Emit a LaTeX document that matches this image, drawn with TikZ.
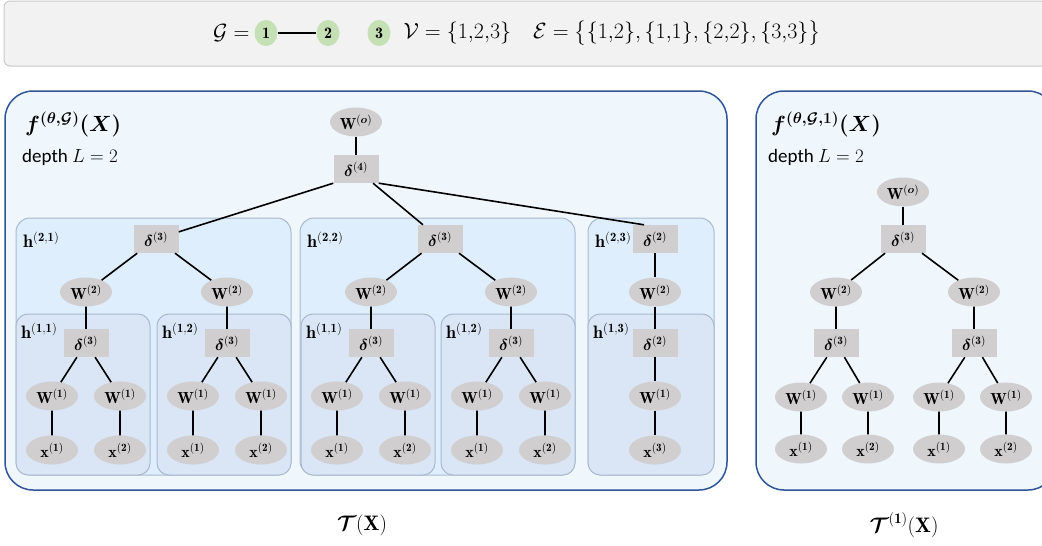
\RequirePackage{fix-cm}
\documentclass[tikz,border=0pt]{standalone}
\usepackage{amsmath,bm}
\usepackage{fontspec}
\newfontfamily\calibri{Carlito}
\usetikzlibrary{shapes.geometric,positioning}

\definecolor{nodegray}{HTML}{D0CECE}
\definecolor{gnode}{HTML}{C5E0B4}
\definecolor{frameblue}{HTML}{2F5597}
\definecolor{panelfill}{HTML}{F0F7FC}
\definecolor{hfilltwo}{HTML}{DEEEFC}
\definecolor{hfillone}{HTML}{DAE5F5}
\definecolor{hborder}{HTML}{A9B9D0}
\definecolor{topfill}{HTML}{F2F2F2}
\definecolor{topline}{HTML}{C9C9C9}

% math label at a given size
\newcommand{\lab}[2]{{\fontsize{#1}{#1}\selectfont$#2$}}

\tikzset{
  wnode/.style={ellipse, fill=nodegray, minimum width=52pt, minimum height=29pt, inner sep=0pt},
  dnode/.style={rectangle, fill=nodegray, minimum width=45pt, minimum height=28pt, inner sep=0pt},
  gnodestyle/.style={ellipse, fill=gnode, minimum width=23pt, minimum height=26pt, inner sep=0pt},
  panel/.style={draw=frameblue, line width=1.5pt, fill=panelfill, rounded corners=28pt},
  hboxtwo/.style={draw=hborder, line width=1pt, fill=hfilltwo, rounded corners=14pt},
  hboxone/.style={draw=hborder, line width=1pt, fill=hfillone, rounded corners=12pt},
  hlabel/.style={anchor=west, inner sep=0pt},
  link/.style={line width=1.6pt},
}

\begin{document}
\begin{tikzpicture}[x=1pt, y=-1pt]
\useasboundingbox (0,0) rectangle (1042,546);

% graph on top
\draw[fill=topfill, draw=topline, line width=1pt, rounded corners=6pt] (4,1) rectangle (1056,66);
\node[gnodestyle] (g1) at (266,33) {\lab{16}{\mathbf{1}}};
\node[gnodestyle] (g2) at (328,33) {\lab{16}{\mathbf{2}}};
\node[gnodestyle] (g3) at (379,33) {\lab{16}{\mathbf{3}}};
\draw[link] (g1) -- (g2);
\node[anchor=east] (gname) at (253,33) {\lab{22}{\mathcal{G} =}};
\node[anchor=west] (sets) at (400,33)
  {\lab{22}{\mathcal{V} = \{1{,}2{,}3\}\quad \mathcal{E} = \big\{\{1{,}2\},\{1{,}1\},\{2{,}2\},\{3{,}3\}\big\}}};

% panels
\draw[panel] (5,91) rectangle (727,490);
\draw[panel] (756,91) rectangle (1056,490);

\node[anchor=west, inner sep=0pt] (fname) at (25,124) {\lab{22}{\bm{f^{(\theta,\mathcal{G})}(X)}}};
\node[anchor=west, inner sep=0pt, font=\calibri\fontsize{19}{21}\selectfont] (depth) at (22,157) {depth $L=2$};
\node[anchor=west, inner sep=0pt] (fname2) at (771,124) {\lab{22}{\bm{f^{(\theta,\mathcal{G},1)}(X)}}};
\node[anchor=west, inner sep=0pt, font=\calibri\fontsize{19}{21}\selectfont] (depth2) at (768,157) {depth $L=2$};

% h boxes
\foreach \bx/\bw/\k in {16/275/1, 300/275/2, 588/126/3}{
  \draw[hboxtwo] (\bx,218) rectangle (\bx+\bw,475);
  \node[hlabel] at (\bx+7,240) {\lab{18}{\mathbf{h}^{(\mathbf{2},\mathbf{\k})}}};
}
\foreach \bx/\k in {16/1, 157/2, 301/1, 441/2}{
  \draw[hboxone] (\bx,314) rectangle (\bx+134,475);
  \node[hlabel] at (\bx+5,331) {\lab{18}{\mathbf{h}^{(\mathbf{1},\mathbf{\k})}}};
}
\draw[hboxone] (588,314) rectangle (714,475);
\node[hlabel] at (593,331) {\lab{18}{\mathbf{h}^{(\mathbf{1},\mathbf{3})}}};

% tree T(X)
\node[wnode] (wo) at (356,122) {\lab{16}{\mathbf{W}^{(\bm{o})}}};
\node[dnode] (d4) at (356,169) {\lab{16}{\bm{\delta}^{(\mathbf{4})}}};
\node[dnode] (d21) at (156,239) {\lab{16}{\bm{\delta}^{(\mathbf{3})}}};
\node[dnode] (d22) at (440,239) {\lab{16}{\bm{\delta}^{(\mathbf{3})}}};
\node[dnode] (d23) at (655,239) {\lab{16}{\bm{\delta}^{(\mathbf{2})}}};
\node[wnode] (w23) at (655,292) {\lab{16}{\mathbf{W}^{(\mathbf{2})}}};
\node[dnode] (d13) at (655,343) {\lab{16}{\bm{\delta}^{(\mathbf{2})}}};
\node[wnode] (w13) at (655,396) {\lab{16}{\mathbf{W}^{(\mathbf{1})}}};
\node[wnode] (x13) at (655,450) {\lab{16}{\mathbf{x}^{(\mathbf{3})}}};
\draw[link] (wo) -- (d4);
\draw[link] (d4.south west) -- (d21);
\draw[link] (d4) -- (d22);
\draw[link] (d4.south east) -- ([xshift=-11pt]d23.north);
\draw[link] (d23) -- (w23) -- (d13) -- (w13) -- (x13);

\foreach \n/\bx/\up in {a/16/d21, b/157/d21, c/301/d22, d/441/d22}{
  \node[wnode] (w\n) at (\bx+70,292) {\lab{16}{\mathbf{W}^{(\mathbf{2})}}};
  \node[dnode] (d\n) at (\bx+70,343) {\lab{16}{\bm{\delta}^{(\mathbf{3})}}};
  \node[wnode] (wl\n) at (\bx+36,396) {\lab{16}{\mathbf{W}^{(\mathbf{1})}}};
  \node[wnode] (wr\n) at (\bx+104,396) {\lab{16}{\mathbf{W}^{(\mathbf{1})}}};
  \node[wnode] (xl\n) at (\bx+36,450) {\lab{16}{\mathbf{x}^{(\mathbf{1})}}};
  \node[wnode] (xr\n) at (\bx+104,450) {\lab{16}{\mathbf{x}^{(\mathbf{2})}}};
  \draw[link] (\up) -- (w\n) -- (d\n);
  \draw[link] (d\n) -- (wl\n) -- (xl\n);
  \draw[link] (d\n) -- (wr\n) -- (xr\n);
}

% tree T^(1)(X)
\node[wnode] (wot) at (903,192) {\lab{16}{\mathbf{W}^{(\bm{o})}}};
\node[dnode] (dt) at (903,239) {\lab{16}{\bm{\delta}^{(\mathbf{3})}}};
\draw[link] (wot) -- (dt);
\foreach \n/\cx in {e/836, f/974}{
  \node[wnode] (w\n) at (\cx,292) {\lab{16}{\mathbf{W}^{(\mathbf{2})}}};
  \node[dnode] (d\n) at (\cx,343) {\lab{16}{\bm{\delta}^{(\mathbf{3})}}};
  \node[wnode] (wl\n) at (\cx-35,397) {\lab{16}{\mathbf{W}^{(\mathbf{1})}}};
  \node[wnode] (wr\n) at (\cx+32,397) {\lab{16}{\mathbf{W}^{(\mathbf{1})}}};
  \node[wnode] (xl\n) at (\cx-35,449) {\lab{16}{\mathbf{x}^{(\mathbf{1})}}};
  \node[wnode] (xr\n) at (\cx+32,449) {\lab{16}{\mathbf{x}^{(\mathbf{2})}}};
  \draw[link] (dt) -- (w\n) -- (d\n);
  \draw[link] (d\n) -- (wl\n) -- (xl\n);
  \draw[link] (d\n) -- (wr\n) -- (xr\n);
}

% captions
\node (cap1) at (362,525) {\lab{21}{\bm{\mathcal{T}}(\mathbf{X})}};
\node (cap2) at (904,525) {\lab{21}{\bm{\mathcal{T}}^{(\mathbf{1})}(\mathbf{X})}};
\end{tikzpicture}
\end{document}
